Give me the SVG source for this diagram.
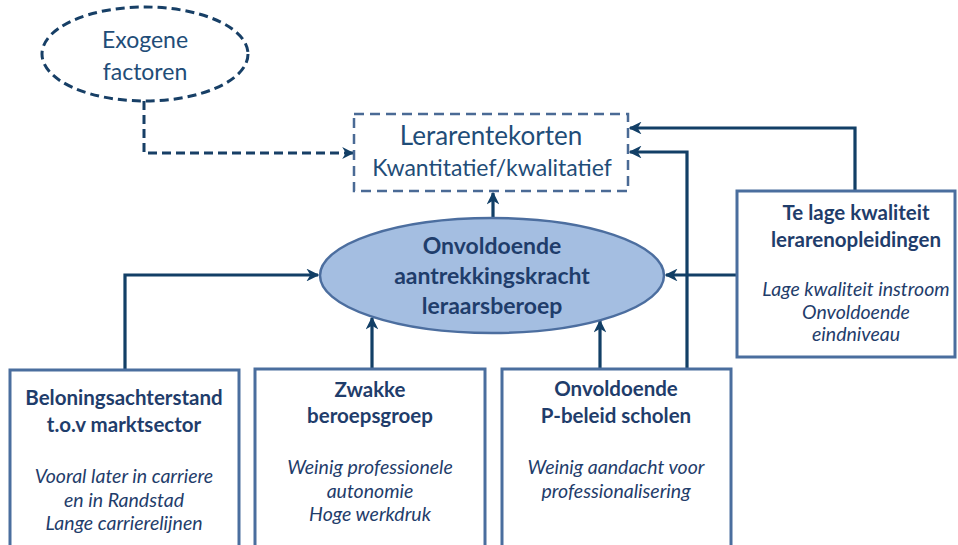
<svg xmlns="http://www.w3.org/2000/svg" width="958" height="545" viewBox="0 0 958 545">
<style>
.bg{fill:#ffffff}
.box{fill:#ffffff;stroke:#4a6e9e;stroke-width:3}
.dbox{fill:#ffffff;stroke:#4a6a95;stroke-width:2.5;stroke-dasharray:10 6}
.exo{fill:#ffffff;stroke:#173f66;stroke-width:3;stroke-dasharray:9 5}
.main{fill:#a4bee1;stroke:#4c6e9f;stroke-width:2.5}
.con{fill:none;stroke:#123f66;stroke-width:3.2}
.dcon{fill:none;stroke:#173f66;stroke-width:3;stroke-dasharray:9 5}
text{font-family:Lato,"Open Sans","Liberation Sans",sans-serif;fill:#1f3d6b;text-anchor:middle}
.t{font-size:23px;fill:#1f4d78}
.b{font-weight:bold;font-size:20.5px}
.bm{font-weight:bold;font-size:23px}
.i{font-style:italic;font-size:19.5px}
</style>
<defs>
<marker id="ah" viewBox="0 0 10 10" refX="9" refY="5" markerWidth="4" markerHeight="4" orient="auto" markerUnits="strokeWidth">
<path d="M0,0 L10,5 L0,10 L3,5 z" fill="#123f66"/>
</marker>
</defs>
<rect class="bg" x="0" y="0" width="958" height="545"/>
<g id="connectors">
<path class="dcon" d="M144,101 V153 H353" marker-end="url(#ah)"/>
<path class="con" d="M493,218 V193" marker-end="url(#ah)"/>
<path class="con" d="M855,191 V128 H630" marker-end="url(#ah)"/>
<path class="con" d="M687,369 V152 H630" marker-end="url(#ah)"/>
<path class="con" d="M737,275 H666" marker-end="url(#ah)"/>
<path class="con" d="M125,370 V275 H318" marker-end="url(#ah)"/>
<path class="con" d="M372,369 V318" marker-end="url(#ah)"/>
<path class="con" d="M600,369 V321" marker-end="url(#ah)"/>
</g>
<g id="exogene">
<ellipse class="exo" cx="145" cy="54" rx="103" ry="47"/>
<text class="t" x="145" y="48">Exogene</text>
<text class="t" x="145" y="80">factoren</text>
</g>
<g id="lerarentekorten">
<rect class="dbox" x="354" y="114" width="274" height="77"/>
<text x="491" y="145" style="font-size:26px;fill:#1f4d78">Lerarentekorten</text>
<text x="492" y="176" style="font-size:23px;fill:#1f4d78">Kwantitatief/kwalitatief</text>
</g>
<g id="aantrekkingskracht">
<ellipse class="main" cx="492" cy="275.5" rx="172" ry="57.5"/>
<text class="bm" x="492" y="254">Onvoldoende</text>
<text class="bm" x="492" y="284">aantrekkingskracht</text>
<text class="bm" x="492" y="314">leraarsberoep</text>
</g>
<g id="opleidingen">
<rect class="box" x="737" y="191" width="218" height="166"/>
<text class="b" x="856" y="220">Te lage kwaliteit</text>
<text class="b" x="856" y="247">lerarenopleidingen</text>
<text class="i" x="856" y="296">Lage kwaliteit instroom</text>
<text class="i" x="856" y="319">Onvoldoende</text>
<text class="i" x="856" y="341">eindniveau</text>
</g>
<g id="beloning">
<rect class="box" x="10" y="370" width="229" height="190"/>
<text class="b" x="124" y="405">Beloningsachterstand</text>
<text class="b" x="124" y="432">t.o.v marktsector</text>
<text class="i" x="124" y="483">Vooral later in carriere</text>
<text class="i" x="124" y="507">en in Randstad</text>
<text class="i" x="124" y="530">Lange carrierelijnen</text>
</g>
<g id="beroepsgroep">
<rect class="box" x="255" y="369" width="230" height="191"/>
<text class="b" x="370" y="397">Zwakke</text>
<text class="b" x="370" y="423">beroepsgroep</text>
<text class="i" x="370" y="474">Weinig professionele</text>
<text class="i" x="370" y="498">autonomie</text>
<text class="i" x="370" y="521">Hoge werkdruk</text>
</g>
<g id="pbeleid">
<rect class="box" x="502" y="369" width="229" height="191"/>
<text class="b" x="616" y="396">Onvoldoende</text>
<text class="b" x="616" y="423">P-beleid scholen</text>
<text class="i" x="616" y="474">Weinig aandacht voor</text>
<text class="i" x="616" y="498">professionalisering</text>
</g>
</svg>
